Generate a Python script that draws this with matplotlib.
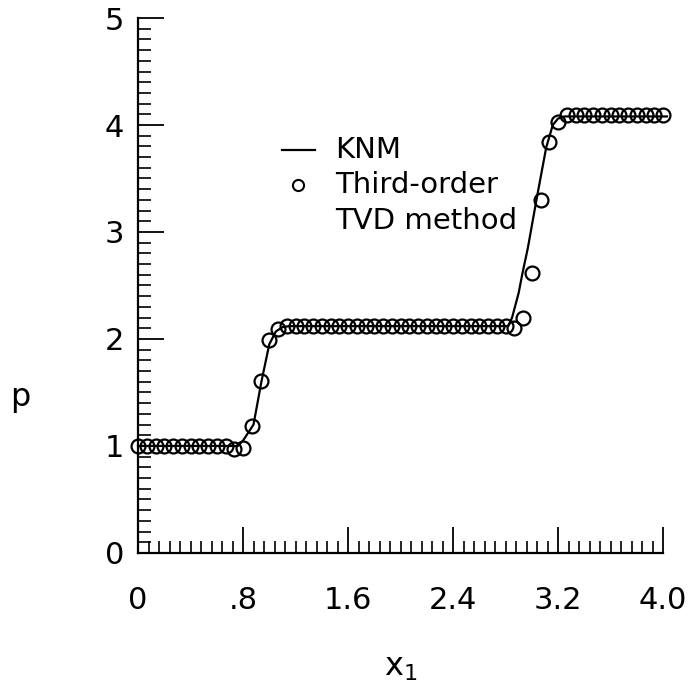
import matplotlib
matplotlib.use('Agg')
import matplotlib.pyplot as plt
from matplotlib.ticker import MultipleLocator, FixedLocator, FixedFormatter

plt.rcParams['font.family'] = ['DejaVu Sans']

# KNM solution (solid line)
knm_x = [0.0, 0.76, 0.80, 0.88, 0.94, 1.00, 1.05, 1.10, 1.15, 2.82, 2.85, 2.90,
         2.93, 2.97, 3.04, 3.11, 3.16, 3.20, 3.25, 4.03]
knm_p = [1.0, 1.0, 1.05, 1.20, 1.60, 1.95, 2.07, 2.11, 2.12, 2.12, 2.20, 2.43,
         2.62, 2.85, 3.33, 3.79, 4.00, 4.06, 4.08, 4.08]

# Third-order TVD method (circles), one per cell, dx = 1/15
tvd_x = [k / 15 for k in range(61)]
tvd_p = ([1.0] * 11 + [0.97, 0.98] +
         [1.19, 1.61, 1.99, 2.09] +
         [2.12] * 26 +
         [2.10, 2.20, 2.62, 3.30, 3.84, 4.03] +
         [4.09] * 12)

xticks = [0, 0.8, 1.6, 2.4, 3.2, 4.0]
xticklabels = ['0', '.8', '1.6', '2.4', '3.2', '4.0']
yticks = [0, 1, 2, 3, 4, 5]
yticklabels = ['0', '1', '2', '3', '4', '5']

fig = plt.figure(figsize=(6.88, 6.90), dpi=100)
ax = fig.add_axes([0.2006, 0.1986, 0.7631, 0.7753])
ax.set_xlim(0, 4.0)
ax.set_ylim(0, 5)

ax.plot(knm_x, knm_p, color='black', lw=1.6, clip_on=False)
ax.plot(tvd_x, tvd_p, 'o', mfc='none', mec='black', ms=10, mew=1.6, clip_on=False)

# axes styling
for s in ['top', 'right']:
    ax.spines[s].set_visible(False)
for s in ['left', 'bottom']:
    ax.spines[s].set_linewidth(1.6)

ax.xaxis.set_major_locator(FixedLocator(xticks))
ax.xaxis.set_major_formatter(FixedFormatter(xticklabels))
ax.yaxis.set_major_locator(FixedLocator(yticks))
ax.yaxis.set_major_formatter(FixedFormatter(yticklabels))
ax.xaxis.set_minor_locator(MultipleLocator(0.08))
ax.yaxis.set_minor_locator(MultipleLocator(0.1))
ax.tick_params(which='major', direction='in', length=19, width=1.3)
ax.tick_params(which='minor', direction='in', length=9, width=1.2)
ax.tick_params(axis='x', which='major', pad=24, labelsize=22)
ax.tick_params(axis='y', which='major', pad=10, labelsize=22)

# axis labels
ax.text(-0.225, 0.29, 'p', transform=ax.transAxes, fontsize=23,
        ha='center', va='center')
ax.text(0.5, -0.215, r'x$_{1}$', transform=ax.transAxes, fontsize=23,
        ha='center', va='center')

# legend drawn by hand
ax.plot([0.274, 0.337], [0.753, 0.753], color='black', lw=1.6, transform=ax.transAxes)
ax.text(0.375, 0.753, 'KNM', transform=ax.transAxes, fontsize=21, ha='left', va='center')
ax.plot([0.305], [0.688], 'o', mfc='none', mec='black', ms=8, mew=1.5, transform=ax.transAxes)
ax.text(0.375, 0.688, 'Third-order', transform=ax.transAxes, fontsize=21, ha='left', va='center')
ax.text(0.375, 0.621, 'TVD method', transform=ax.transAxes, fontsize=21, ha='left', va='center')

fig.savefig('out.png', dpi=100)
